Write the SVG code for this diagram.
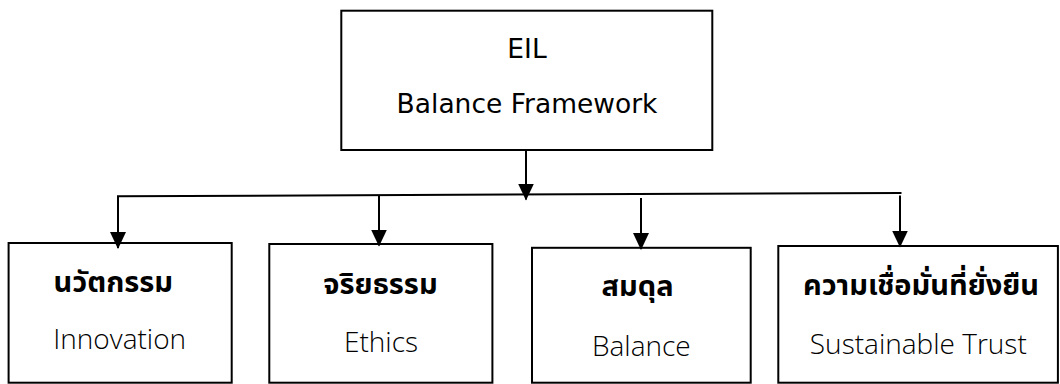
<svg xmlns="http://www.w3.org/2000/svg" width="1060" height="384" viewBox="0 0 1060 384">
<style>
.box{fill:#fff;stroke:#000;stroke-width:2}
.con{stroke:#000;stroke-width:2;fill:none}
.top{font-family:"DejaVu Sans","Noto Sans",sans-serif;font-size:26.5px;fill:#000;text-anchor:middle}
.th{font-family:"Noto Sans Thai","Noto Sans","Leelawadee UI",sans-serif;font-weight:bold;font-size:29px;fill:#000;text-anchor:middle}
.en{font-family:"Open Sans","Noto Sans",sans-serif;font-weight:300;font-size:28px;fill:#000;text-anchor:middle}
</style>
<defs>
<marker id="ah" markerUnits="userSpaceOnUse" markerWidth="17" markerHeight="16" refX="16" refY="8" orient="auto">
<path d="M0,0 L17,8 L0,16 z" fill="#000"/>
</marker>
</defs>
<rect width="1060" height="384" fill="#fff"/>
<g id="root">
<rect class="box" x="341.3" y="10.7" width="371" height="139.3"/>
<text class="top" x="527" y="58.3" font-size="24.5">EIL</text>
<text class="top" x="527" y="113.3">Balance Framework</text>
</g>
<g id="innovation">
<rect class="box" x="8.6" y="243" width="223.1" height="139.7"/>
<text class="th" x="113.3" y="292">นวัตกรรม</text>
<text class="en" x="119.7" y="349.4">Innovation</text>
</g>
<g id="ethics">
<rect class="box" x="269.3" y="244" width="223.1" height="138.7"/>
<text class="th" x="380.5" y="293.6">จริยธรรม</text>
<text class="en" x="381" y="352">Ethics</text>
</g>
<g id="balance">
<rect class="box" x="532" y="247.8" width="218.7" height="134.9"/>
<text class="th" x="637.6" y="296.4">สมดุล</text>
<text class="en" x="641.3" y="355.6">Balance</text>
</g>
<g id="trust">
<rect class="box" x="778.3" y="246" width="279.6" height="136.7"/>
<text class="th" x="921" y="295.4">ความเชื่อมั่นที่ยั่งยืน</text>
<text class="en" x="918.3" y="354">Sustainable Trust</text>
</g>
<g id="connectors">
<line class="con" x1="526" y1="150" x2="526" y2="199.5" marker-end="url(#ah)"/>
<line class="con" x1="117" y1="196.2" x2="901.5" y2="193"/>
<line class="con" x1="118" y1="196" x2="118" y2="248" marker-end="url(#ah)"/>
<line class="con" x1="379" y1="195.5" x2="379" y2="245.5" marker-end="url(#ah)"/>
<line class="con" x1="641" y1="198" x2="641" y2="249" marker-end="url(#ah)"/>
<line class="con" x1="900" y1="195.5" x2="900" y2="246.5" marker-end="url(#ah)"/>
</g>
</svg>
